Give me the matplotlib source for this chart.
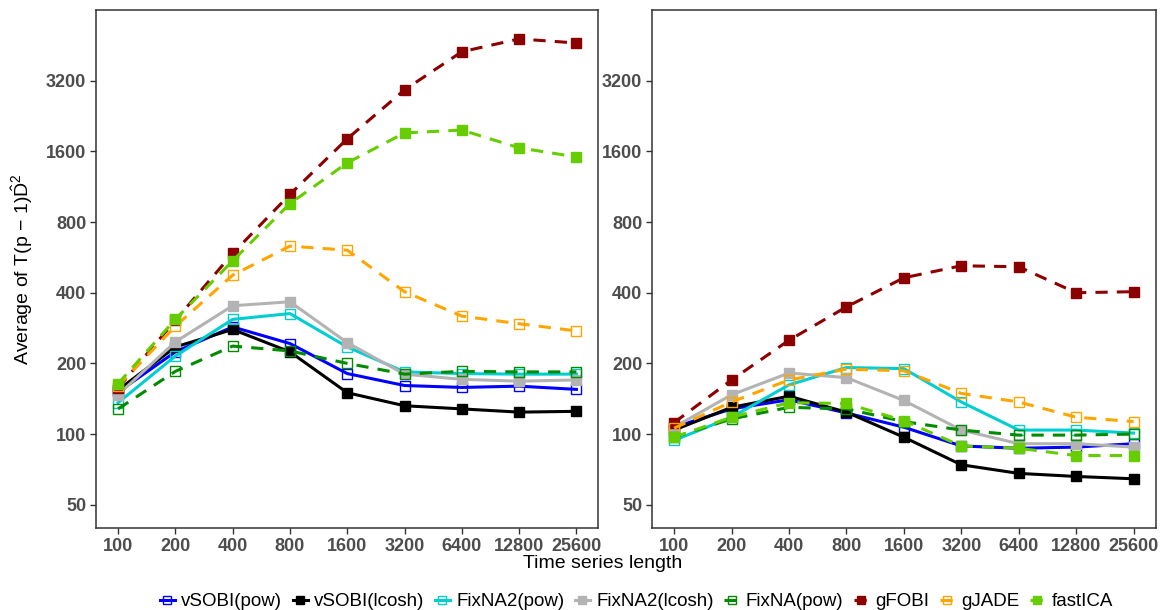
import matplotlib.pyplot as plt
from matplotlib.ticker import FixedLocator, FixedFormatter, NullLocator

plt.rcParams['font.family'] = ['Liberation Sans', 'DejaVu Sans']
plt.rcParams['mathtext.fontset'] = 'custom'
plt.rcParams['mathtext.rm'] = 'Liberation Sans'
plt.rcParams['mathtext.it'] = 'Liberation Sans'

# time series lengths
lengths = [100, 200, 400, 800, 1600, 3200, 6400, 12800, 25600]
yticks = [50, 100, 200, 400, 800, 1600, 3200]

methods = ['vSOBI(pow)', 'vSOBI(lcosh)', 'FixNA2(pow)', 'FixNA2(lcosh)',
           'FixNA(pow)', 'gFOBI', 'gJADE', 'fastICA']
colors = ['#0000FF', '#000000', '#00CED1', '#B3B3B3',
          '#008B00', '#8B0000', '#FFA500', '#66CD00']
styles = ['-', '-', '-', '-', '--', '--', '--', '--']
filled = [False, True, False, True, False, True, False, True]

# left panel
left_vals = {
    'vSOBI(pow)':    [151, 224, 286, 243, 181, 161, 158, 160, 155],
    'vSOBI(lcosh)':  [154, 235, 279, 224, 150, 132, 128, 124, 125],
    'FixNA2(pow)':   [136, 215, 308, 326, 235, 184, 181, 180, 180],
    'FixNA2(lcosh)': [147, 247, 352, 366, 245, 180, 171, 168, 170],
    'FixNA(pow)':    [128, 185, 237, 226, 200, 180, 185, 184, 184],
    'gFOBI':         [157, 305, 588, 1049, 1810, 2925, 4250, 4820, 4630],
    'gJADE':         [160, 288, 475, 632, 607, 404, 318, 295, 275],
    'fastICA':       [164, 308, 547, 959, 1430, 1917, 1972, 1656, 1515],
}

# right panel
right_vals = {
    'vSOBI(pow)':    [107, 128, 140, 123, 107, 89, 87, 88, 91],
    'vSOBI(lcosh)':  [104, 130, 145, 124, 97, 74, 68, 66, 64.5],
    'FixNA2(pow)':   [94, 118, 162, 192, 190, 137, 104, 104, 101],
    'FixNA2(lcosh)': [107, 147, 182, 174, 139, 104, 91, 91, 88],
    'FixNA(pow)':    [97, 116, 130, 128, 113, 104, 99, 99, 100],
    'gFOBI':         [112, 170, 251, 348, 463, 521, 516, 400, 404],
    'gJADE':         [106, 137, 170, 189, 186, 149, 137, 118, 113],
    'fastICA':       [97, 118, 136, 135, 114, 89, 87, 81, 81],
}

fig = plt.figure(figsize=(11.61, 6.10), dpi=100)
ax1 = fig.add_axes([0.0827, 0.1344, 0.4328, 0.8492])
ax2 = fig.add_axes([0.5616, 0.1344, 0.4338, 0.8492])

for ax, vals in [(ax1, left_vals), (ax2, right_vals)]:
    for m, c, ls, f in zip(methods, colors, styles, filled):
        ax.plot(lengths, vals[m], color=c, ls=ls, lw=2.2,
                dashes=(4, 3) if ls == '--' else (None, None),
                marker='s', ms=7.5, mew=1.0, mec=c,
                mfc=c if f else 'none', label=m)
    ax.set_xscale('log', base=2)
    ax.set_yscale('log', base=2)
    ax.set_xlim(100 * 2 ** -0.385, 100 * 2 ** 8.385)
    ax.set_ylim(39.8, 6400)
    ax.xaxis.set_major_locator(FixedLocator(lengths))
    ax.xaxis.set_major_formatter(FixedFormatter([str(v) for v in lengths]))
    ax.yaxis.set_major_locator(FixedLocator(yticks))
    ax.yaxis.set_major_formatter(FixedFormatter([str(v) for v in yticks]))
    ax.xaxis.set_minor_locator(NullLocator())
    ax.yaxis.set_minor_locator(NullLocator())
    ax.tick_params(direction='out', length=4, width=1, color='#333333',
                   labelsize=13, labelcolor='#4D4D4D', pad=3)
    for lab in ax.get_xticklabels() + ax.get_yticklabels():
        lab.set_fontweight('bold')
    for sp in ax.spines.values():
        sp.set_color('#333333')
        sp.set_linewidth(1.1)

ax1.set_ylabel(r'Average of T(p $-$ 1)$\hat{\mathregular{D}}^{2}$', fontsize=14, labelpad=8)
fig.text(0.519, 0.077, 'Time series length', ha='center', va='center', fontsize=14)

handles, labels = ax1.get_legend_handles_labels()
leg = fig.legend(handles, labels, loc='lower center', bbox_to_anchor=(0.548, -0.028),
                 ncol=8, frameon=False, fontsize=13.5, handlelength=0.8,
                 handletextpad=0.35, columnspacing=0.55, markerscale=0.75)

fig.savefig('out.png', dpi=100)
